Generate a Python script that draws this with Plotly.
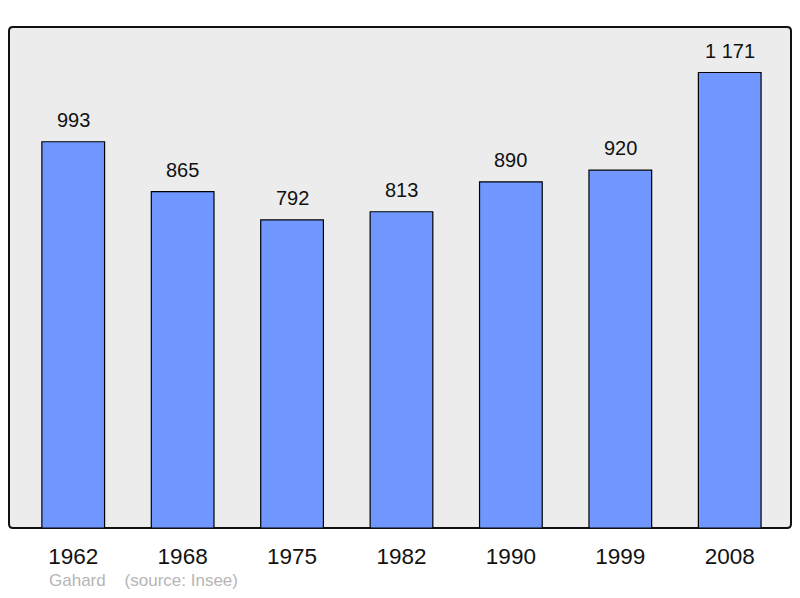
import plotly.graph_objects as go

years = ["1962", "1968", "1975", "1982", "1990", "1999", "2008"]
population = [993, 865, 792, 813, 890, 920, 1171]
labels = ["993", "865", "792", "813", "890", "920", "1 171"]

# page has an 8px body margin; figure sized to fit inside it
W, H = 784, 582
L, R, T, B = 1, 1, 19, 62
pw, ph = W - L - R, H - T - B

fig = go.Figure()
fig.add_trace(go.Bar(
    x=list(range(len(years))), y=population,
    width=0.573,
    marker=dict(color="#7097ff", line=dict(color="#000000", width=1.2)),
    hoverinfo="skip",
))

for i, (v, t) in enumerate(zip(population, labels)):
    fig.add_annotation(x=i, y=v, text=t, showarrow=False, yanchor="bottom",
                       yshift=9, font=dict(size=20, color="#111111",
                                           family="Liberation Sans, Arial, sans-serif"))

# rounded frame
r = 4
rx, ry = r / pw, r / ph
path = (f"M {rx},0 L {1-rx},0 Q 1,0 1,{ry} L 1,{1-ry} Q 1,1 {1-rx},1 "
        f"L {rx},1 Q 0,1 0,{1-ry} L 0,{ry} Q 0,0 {rx},0 Z")
fig.add_shape(type="path", path=path, xref="paper", yref="paper",
              line=dict(color="#111111", width=2), fillcolor="#ececec", layer="below")

fig.add_annotation(x=(40 - L) / pw, y=(520 - 572.5) / ph, xref="paper", yref="paper",
                   xanchor="left", yanchor="middle", showarrow=False, borderpad=0,
                   text="Gahard\u00a0\u00a0\u00a0\u00a0(source: Insee)",
                   font=dict(size=17, color="#b5b5b5",
                             family="Liberation Sans, Arial, sans-serif"))

fig.update_layout(
    width=W, height=H,
    margin=dict(l=L, r=R, t=T, b=B, autoexpand=False),
    paper_bgcolor="#ffffff", plot_bgcolor="rgba(0,0,0,0)",
    showlegend=False,
    font=dict(family="Liberation Sans, Arial, sans-serif", color="#111111"),
    xaxis=dict(range=[-0.587, 6.56], tickmode="array",
               tickvals=list(range(len(years))), ticktext=years,
               showgrid=False, zeroline=False, showline=False, ticks="",
               tickfont=dict(size=22.5, color="#111111"), ticklabelstandoff=12,
               fixedrange=True, automargin=False),
    yaxis=dict(range=[0, 1288], visible=False, showgrid=False, fixedrange=True),
)

fig.write_html("out.html")
